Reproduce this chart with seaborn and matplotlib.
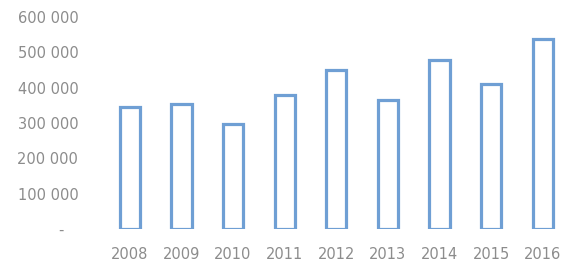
import matplotlib
matplotlib.use("Agg")
import matplotlib.pyplot as plt
import seaborn as sns
from matplotlib.ticker import FuncFormatter, FixedLocator

years = ["2008", "2009", "2010", "2011", "2012", "2013", "2014", "2015", "2016"]
values = [345000, 354000, 297000, 380000, 449000, 366000, 477000, 409000, 537000]
yticks = [0, 100000, 200000, 300000, 400000, 500000, 600000]

sns.set_style("white")
plt.rcParams['font.family'] = ['DejaVu Sans']

fig = plt.figure(figsize=(5.65, 2.68), dpi=100)
ax = fig.add_axes([104/565, 39/268, 461/565, 212/268])

sns.barplot(x=years, y=values, ax=ax, color="white", edgecolor="#6f9fd4",
            linewidth=2.3, width=0.39, saturation=1)

ax.set_xlim(-0.5, 8.43)
ax.set_ylim(0, 600000)
ax.yaxis.set_major_locator(FixedLocator(yticks))

def fmt(v, pos):
    if v == 0:
        return "-   "
    return f"{int(v):,}".replace(",", " ")

ax.yaxis.set_major_formatter(FuncFormatter(fmt))
for s in ax.spines.values():
    s.set_visible(False)
ax.tick_params(axis="both", length=0, colors="#8c8c8c", labelsize=10.5)
ax.tick_params(axis="y", pad=18.5)
ax.tick_params(axis="x", pad=13)
ax.set_xlabel("")
ax.set_ylabel("")
ax.grid(False)

fig.savefig("out.png", dpi=100)
